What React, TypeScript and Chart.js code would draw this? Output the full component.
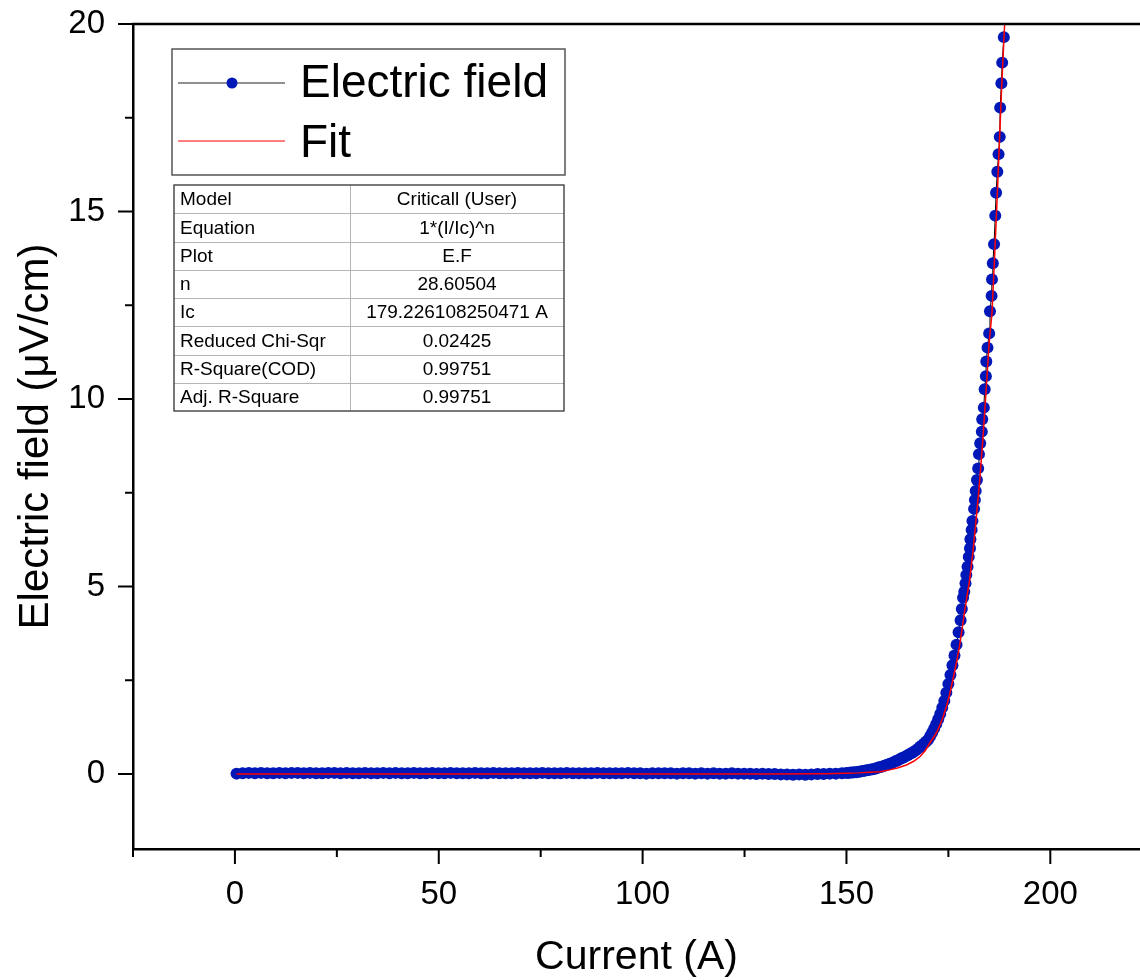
import React, { useEffect, useRef } from "react";
import { Chart, registerables } from "chart.js";

Chart.register(...registerables);

// ---------- data ----------
const flatCurrent = [
  0.4, 1.9, 3.4, 4.9, 6.4, 7.9, 9.4, 10.9, 12.4, 13.9, 15.4, 16.9, 18.4, 19.9, 21.4, 22.9, 24.4, 25.9, 27.4, 28.9,
  30.4, 31.9, 33.4, 34.9, 36.4, 37.9, 39.4, 40.9, 42.4, 43.9, 45.4, 46.9, 48.4, 49.9, 51.4, 52.9, 54.4, 55.9, 57.4, 58.9,
  60.4, 61.9, 63.4, 64.9, 66.4, 67.9, 69.4, 70.9, 72.4, 73.9, 75.4, 76.9, 78.4, 79.9, 81.4, 82.9, 84.4, 85.9, 87.4, 88.9,
  90.4, 91.9, 93.4, 94.9, 96.4, 97.9, 99.4, 100.9, 102.4, 103.9, 105.4, 106.9, 108.4, 109.9, 111.4, 112.9, 114.4, 115.9, 117.4, 118.9,
  120.4, 121.9, 123.4, 124.9, 126.4, 127.9, 129.4, 130.9, 132.4, 133.9, 135.4, 136.9, 138.4, 139.9, 141.4, 142.9, 144.4, 145.9, 147.4, 148.9,
];
const flatField = [
  0.01, 0.02, 0.03, 0.02, 0.03, 0.02, 0.02, 0.03, 0.02, 0.03, 0.03, 0.02, 0.03, 0.02, 0.02, 0.03, 0.03, 0.02, 0.03, 0.02,
  0.02, 0.03, 0.02, 0.02, 0.03, 0.02, 0.03, 0.02, 0.02, 0.03, 0.02, 0.02, 0.03, 0.02, 0.02, 0.03, 0.02, 0.02, 0.02, 0.03,
  0.02, 0.02, 0.03, 0.02, 0.02, 0.02, 0.03, 0.02, 0.02, 0.02, 0.03, 0.02, 0.02, 0.02, 0.03, 0.02, 0.02, 0.02, 0.02, 0.03,
  0.02, 0.02, 0.02, 0.02, 0.03, 0.02, 0.02, 0.01, 0.02, 0.02, 0.02, 0.02, 0.01, 0.02, 0.02, 0.01, 0.02, 0.01, 0.02, 0.01,
  0.01, 0.02, 0.01, 0.01, 0.01, 0.0, 0.01, 0.0, 0.0, -0.01, -0.01, -0.02, -0.01, -0.02, -0.01, 0.0, 0.0, 0.01, 0.01, 0.02,
];
const riseCurrent = [
  150, 150.5, 151, 151.5, 152, 152.5, 153, 153.5, 154, 154.5, 155, 155.5, 156, 156.5, 157, 157.5, 158, 158.5, 159, 159.5,
  160, 160.5, 161, 161.5, 162, 162.5, 163, 163.5, 164, 164.5, 165, 165.5, 166, 166.5, 167, 167.5, 168, 168.5, 169, 169.5,
  170, 170.5, 171, 171.5, 172, 172.5, 173, 173.5, 174, 174.5, 175, 175.5, 176, 176.5, 177, 177.5, 178, 178.3,
];
const riseField = [
  0.03, 0.03, 0.04, 0.04, 0.05, 0.05, 0.06, 0.07, 0.08, 0.09, 0.1, 0.11, 0.12, 0.13, 0.14, 0.16, 0.18, 0.19, 0.21, 0.23,
  0.25, 0.27, 0.29, 0.31, 0.34, 0.36, 0.39, 0.42, 0.44, 0.47, 0.5, 0.53, 0.56, 0.59, 0.63, 0.67, 0.72, 0.76, 0.81, 0.86,
  0.91, 1.0, 1.1, 1.21, 1.33, 1.46, 1.6, 1.77, 1.95, 2.17, 2.4, 2.64, 2.9, 3.16, 3.45, 3.78, 4.1, 4.4,
];
const topCurrent = [
  178.6, 178.9, 179.2, 179.4, 179.7, 180.0, 180.3, 180.4, 180.7, 180.9, 181.3, 181.5, 181.7, 182.0, 182.3, 182.5, 182.8, 183.2, 183.3, 183.7,
  183.9, 184.2, 184.3, 184.6, 185.0, 185.2, 185.6, 185.7, 185.9, 186.2, 186.5, 186.7, 187.0, 187.3, 187.6, 187.7, 188.0, 188.2, 188.6,
];
const topField = [
  4.7, 4.86, 5.09, 5.31, 5.53, 5.79, 6.02, 6.26, 6.51, 6.75, 7.07, 7.31, 7.55, 7.84, 8.15, 8.53, 8.82, 9.13, 9.46, 9.77,
  10.26, 10.61, 11.0, 11.37, 11.75, 12.34, 12.75, 13.19, 13.62, 14.13, 14.89, 15.5, 16.06, 16.53, 16.99, 17.77, 18.42, 18.97, 19.65,
];
const fitCurrent = [
  0.4, 50, 100, 130, 145, 150, 153, 155.5, 158.2, 160.6, 162.5, 164.7, 166.5, 168, 169.3, 170.4, 171.4, 172.4, 173.5, 174.5,
  175.3, 176.1, 177, 177.7, 178.3, 178.9, 179.5, 180.2, 181, 181.9, 182.7, 183.5, 184.3, 185, 185.7, 186.3, 186.9, 187.5, 188.1, 188.8, 189.2,
];
const fitField = [
  0, 0, 0, 0, 0.01, 0.02, 0.03, 0.045, 0.06, 0.11, 0.16, 0.24, 0.34, 0.46, 0.62, 0.82, 0.98, 1.17, 1.46, 1.79,
  2.12, 2.51, 2.98, 3.39, 3.82, 4.28, 4.7, 5.17, 5.9, 6.9, 7.84, 9.0, 10.3, 11.5, 12.3, 13.7, 15.2, 16.8, 18.4, 20.0, 21.0,
];

const xTickValues = [0, 50, 100, 150, 200];
const xMinorTicks = [-25, 25, 75, 125, 175];
const yTickValues = [0, 5, 10, 15, 20];
const yMinorTicks = [2.5, 7.5, 12.5, 17.5];

const legendLabels = ["Electric field", "Fit"];
const tableKeys = ["Model", "Equation", "Plot", "n", "Ic", "Reduced Chi-Sqr", "R-Square(COD)", "Adj. R-Square"];
const tableValues = ["Criticall (User)", "1*(I/Ic)^n", "E.F", "28.60504", "179.226108250471 A", "0.02425", "0.99751", "0.99751"];

const FONT = "'Liberation Sans', Arial, Helvetica, sans-serif";
const BLUE = "rgb(0, 24, 184)";
const RED = "#ff0000";

const dataCurrent = [...flatCurrent, ...riseCurrent, ...topCurrent];
const dataField = [...flatField, ...riseField, ...topField];

const overlayPlugin = {
  id: "overlay",
  afterDraw(chart: any) {
    const { ctx, chartArea } = chart;
    const xs = chart.scales.x;
    const ys = chart.scales.y;
    const seg = (x1: number, y1: number, x2: number, y2: number) => {
      ctx.beginPath();
      ctx.moveTo(x1, y1);
      ctx.lineTo(x2, y2);
      ctx.stroke();
    };
    ctx.save();
    ctx.strokeStyle = "#000";
    ctx.lineWidth = 2.5;
    // top frame line
    seg(chartArea.left - 1, chartArea.top, chartArea.right, chartArea.top);
    ctx.lineWidth = 2;
    // x ticks
    const xb = chartArea.bottom;
    xTickValues.forEach((v) => {
      const p = xs.getPixelForValue(v);
      seg(p, xb, p, xb + 15);
    });
    xMinorTicks.forEach((v) => {
      const p = xs.getPixelForValue(v);
      seg(p, xb, p, xb + 8);
    });
    // y ticks
    const yl = chartArea.left;
    yTickValues.forEach((v) => {
      const p = ys.getPixelForValue(v);
      seg(yl - 15, p, yl, p);
    });
    yMinorTicks.forEach((v) => {
      const p = ys.getPixelForValue(v);
      seg(yl - 8, p, yl, p);
    });

    // legend box
    ctx.fillStyle = "#fff";
    ctx.fillRect(172, 49, 393, 126);
    ctx.strokeStyle = "#555";
    ctx.lineWidth = 1.5;
    ctx.strokeRect(172, 49, 393, 126);
    ctx.strokeStyle = "#222";
    ctx.lineWidth = 1.2;
    seg(178, 83, 285, 83);
    ctx.fillStyle = BLUE;
    ctx.beginPath();
    ctx.arc(232, 83, 5.5, 0, Math.PI * 2);
    ctx.fill();
    ctx.strokeStyle = RED;
    ctx.lineWidth = 1.2;
    seg(178, 141, 285, 141);
    ctx.fillStyle = "#000";
    ctx.font = `46px ${FONT}`;
    ctx.textAlign = "left";
    ctx.textBaseline = "alphabetic";
    ctx.fillText(legendLabels[0], 300, 97);
    ctx.fillText(legendLabels[1], 300, 157);

    // parameter table
    const tl = 174, tr = 564, tt = 185, rowH = 28.25, mid = 350;
    const tb = tt + rowH * tableKeys.length;
    ctx.fillStyle = "#fff";
    ctx.fillRect(tl, tt, tr - tl, tb - tt);
    ctx.strokeStyle = "#b5b5b5";
    ctx.lineWidth = 1;
    for (let i = 1; i < tableKeys.length; i++) {
      const y = Math.round(tt + rowH * i) + 0.5;
      seg(tl, y, tr, y);
    }
    seg(mid + 0.5, tt, mid + 0.5, tb);
    ctx.strokeStyle = "#333";
    ctx.lineWidth = 1.3;
    ctx.strokeRect(tl, tt, tr - tl, tb - tt);
    ctx.fillStyle = "#000";
    ctx.font = `19px ${FONT}`;
    ctx.textBaseline = "middle";
    tableKeys.forEach((k, i) => {
      const cy = tt + rowH * (i + 0.5) + 1;
      ctx.textAlign = "left";
      ctx.fillText(k, tl + 6, cy);
      ctx.textAlign = "center";
      ctx.fillText(tableValues[i], (mid + tr) / 2, cy);
    });
    ctx.restore();
  },
};

export default function App() {
  const canvasRef = useRef<HTMLCanvasElement | null>(null);

  useEffect(() => {
    if (!canvasRef.current) return;
    Chart.defaults.font.family = FONT;
    const chart = new Chart(canvasRef.current, {
      type: "scatter",
      data: {
        datasets: [
          {
            label: legendLabels[1],
            data: fitCurrent.map((x, i) => ({ x, y: fitField[i] })),
            showLine: true,
            borderColor: RED,
            borderWidth: 1.5,
            pointRadius: 0,
            order: 0,
          },
          {
            label: legendLabels[0],
            data: dataCurrent.map((x, i) => ({ x, y: dataField[i] })),
            showLine: true,
            borderColor: "#000",
            borderWidth: 1,
            pointRadius: 6,
            pointBorderWidth: 0,
            pointBackgroundColor: BLUE,
            pointBorderColor: BLUE,
            order: 1,
          },
        ],
      },
      options: {
        responsive: false,
        animation: false,
        devicePixelRatio: 1,
        layout: { padding: { top: 24, right: 0, bottom: 0, left: 0 } },
        plugins: { legend: { display: false }, tooltip: { enabled: false } },
        events: [],
        scales: {
          x: {
            type: "linear",
            min: -25,
            max: 222,
            afterFit: (s: any) => {
              s.height = 131;
              s.paddingLeft = 0;
              s.paddingRight = 0;
            },
            afterBuildTicks: (s: any) => {
              s.ticks = xTickValues.map((v) => ({ value: v }));
            },
            grid: { display: false, drawTicks: false },
            border: { display: true, color: "#000", width: 2.5 },
            ticks: {
              color: "#000",
              font: { size: 33 },
              padding: 26,
              maxRotation: 0,
              autoSkip: false,
              callback: (v: any) => String(v),
            },
            title: {
              display: true,
              text: "Current (A)",
              color: "#000",
              font: { size: 41, lineHeight: 1 },
              padding: { top: 0, bottom: 2 },
            },
          },
          y: {
            type: "linear",
            min: -2,
            max: 20,
            afterFit: (s: any) => {
              s.width = 133;
              s.paddingTop = 0;
              s.paddingBottom = 0;
            },
            afterBuildTicks: (s: any) => {
              s.ticks = yTickValues.map((v) => ({ value: v }));
            },
            grid: { display: false, drawTicks: false },
            border: { display: true, color: "#000", width: 2.5 },
            ticks: {
              color: "#000",
              font: { size: 33 },
              padding: 28,
              autoSkip: false,
              callback: (v: any) => String(v),
            },
            title: {
              display: true,
              text: "Electric field (μV/cm)",
              color: "#000",
              font: { size: 42, lineHeight: 1 },
              padding: { top: 15, bottom: 0 },
            },
          },
        },
      },
      plugins: [overlayPlugin],
    } as any);
    return () => chart.destroy();
  }, []);

  return (
    <div
      style={{
        position: "absolute",
        left: 0,
        top: 0,
        width: 1140,
        height: 980,
        overflow: "hidden",
        background: "#fff",
      }}
    >
      <canvas ref={canvasRef} width={1146} height={980} style={{ display: "block" }} />
    </div>
  );
}
